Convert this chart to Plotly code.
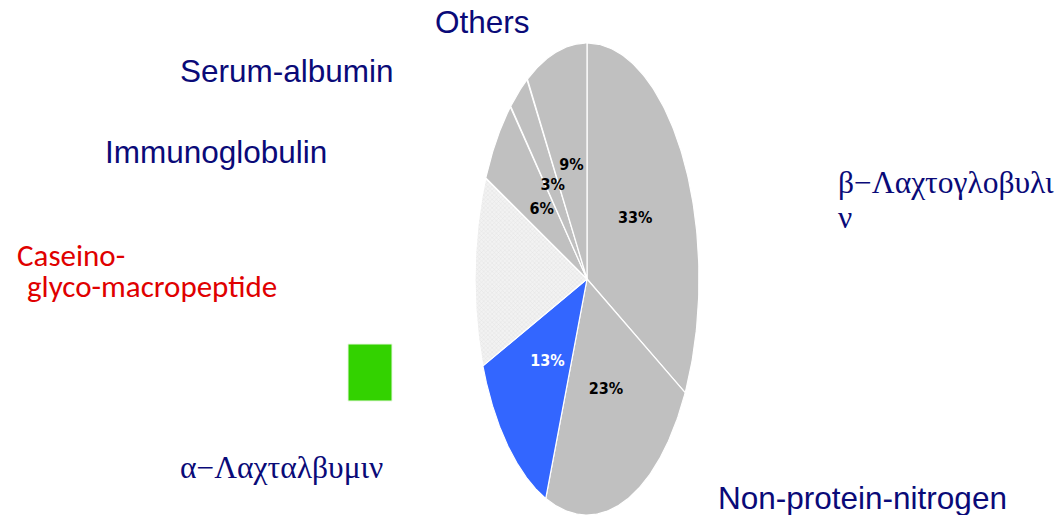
import numpy as np
import plotly.graph_objects as go

# Whey protein composition (percent), clockwise from 12 o'clock
components = ["β-Lactoglobulin", "Non-protein-nitrogen", "α-Lactalbumin",
              "Caseino-glyco-macropeptide", "Immunoglobulin", "Serum-albumin", "Others"]
shares = [33, 23, 13, 13, 6, 3, 9]
show_label = [True, True, True, False, True, True, True]

slice_colors = ["#c0c0c0", "#c0c0c0", "#3366ff", "#ececec", "#c0c0c0", "#c0c0c0", "#c0c0c0"]
label_colors = ["black", "black", "white", "black", "black", "black", "black"]

# Geometry of the (vertically stretched) pie in page pixels
CX, CY, RX, RY = 587, 279, 112, 236

fig = go.Figure()

total = sum(shares)
start = 0.0
lab_x, lab_y, lab_t, lab_c = [], [], [], []
for name, val, col, lc, show in zip(components, shares, slice_colors, label_colors, show_label):
    a0 = start / total * 2 * np.pi
    a1 = (start + val) / total * 2 * np.pi
    th = np.linspace(a0, a1, 120)
    xs = np.concatenate([[CX], CX + RX * np.sin(th), [CX]])
    ys = np.concatenate([[CY], CY - RY * np.cos(th), [CY]])
    kw = {}
    if name.startswith("Caseino"):
        kw["fillpattern"] = dict(shape="x", size=3, solidity=0.3,
                                 fgcolor="#d2d2d2", bgcolor="#f2f2f2")
    fig.add_trace(go.Scatter(
        x=xs, y=ys, mode="lines", fill="toself", fillcolor=col,
        line=dict(color="white", width=1.2), hoverinfo="skip", showlegend=False, **kw))
    if show:
        mid = (a0 + a1) / 2
        lab_x.append(CX + 0.5 * RX * np.sin(mid))
        lab_y.append(CY - 0.5 * RY * np.cos(mid))
        lab_t.append(f"<b>{val}%</b>")
        lab_c.append(lc)
    start += val

fig.add_trace(go.Scatter(
    x=lab_x, y=lab_y, mode="text", text=lab_t,
    textfont=dict(family="Liberation Sans Narrow, DejaVu Sans Condensed, Arial Narrow, sans-serif",
                  size=16, color=lab_c),
    hoverinfo="skip", showlegend=False))

# Green marker square
fig.add_shape(type="rect", x0=348, x1=392, y0=344, y1=401,
              fillcolor="#33d200", line=dict(color="#e8f8e0", width=1))

NAVY = "#0a0a78"
SANS = "Liberation Sans, Arial, sans-serif"
SERIF = "Liberation Serif, Times New Roman, serif"
CAL = "Carlito, Open Sans, Noto Sans, sans-serif"
H = 515


def label(x, y, text, family, size, color):
    # y is given in page pixels from the top; placed in paper coordinates
    fig.add_annotation(x=x / 1060, y=1 - y / H, xref="paper", yref="paper", text=text,
                       showarrow=False, xanchor="left", yanchor="bottom",
                       font=dict(family=family, size=size, color=color))


label(433, 42, "Others", SANS, 31.5, NAVY)
label(178, 91, "Serum-albumin", SANS, 31.5, NAVY)
label(103, 172, "Immunoglobulin", SANS, 31.5, NAVY)
label(15, 276, "Caseino-", CAL, 31, "#e00000")
label(25, 307, "glyco-macropeptide", CAL, 31, "#e00000")
label(836, 202, "β−Λαχτογλοβυλι", SERIF, 31.5, NAVY)
label(836, 237, "ν", SERIF, 31.5, NAVY)
label(178, 487, "α−Λαχταλβυμιν", SERIF, 31.5, NAVY)
label(716, 518, "Non-protein-nitrogen", SANS, 31.5, NAVY)

fig.update_layout(
    width=1060, height=515,
    margin=dict(l=0, r=0, t=0, b=0),
    paper_bgcolor="white", plot_bgcolor="white",
    xaxis=dict(range=[0, 1060], visible=False, fixedrange=True),
    yaxis=dict(range=[515, 0], visible=False, fixedrange=True),
)

fig.write_html("out.html")
